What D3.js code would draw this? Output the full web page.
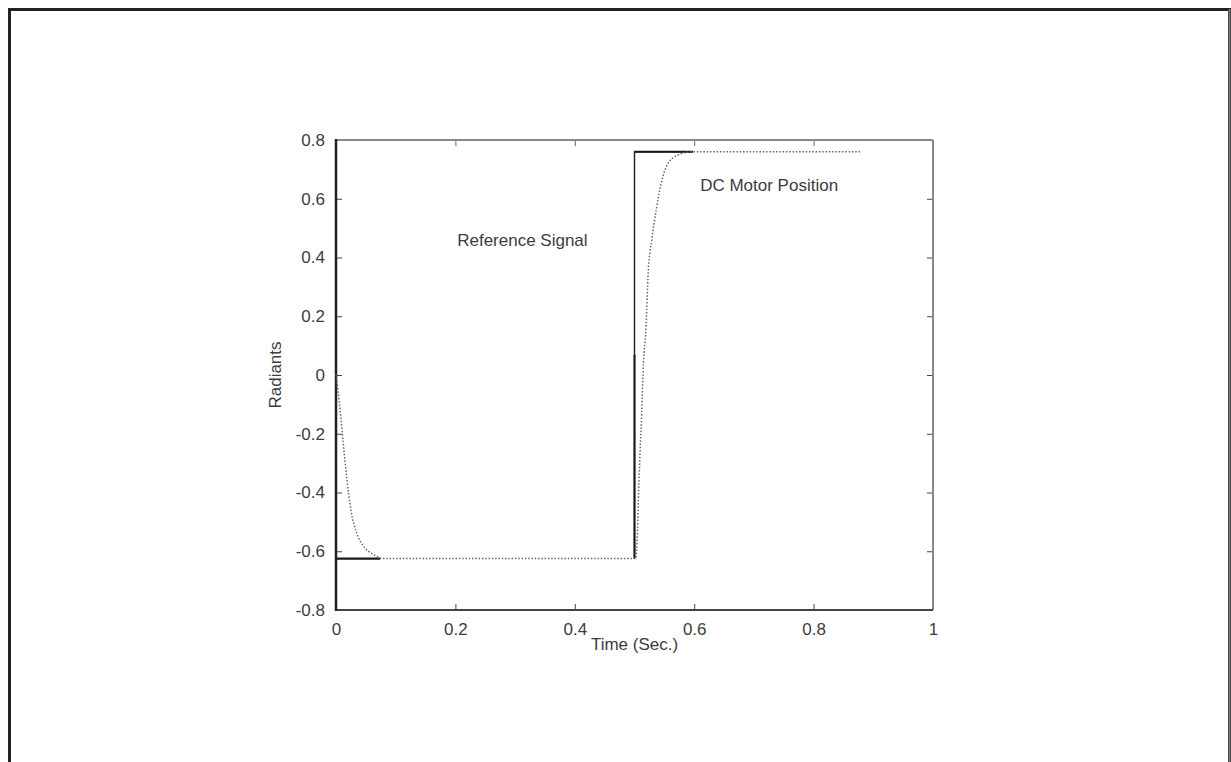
<!DOCTYPE html>
<html>
<head>
<meta charset="utf-8">
<script src="https://cdn.jsdelivr.net/npm/d3@7"></script>
<style>
  body { margin: 0; background: #fff; }
  svg { display: block; font-family: "Liberation Sans", Arial, sans-serif; }
</style>
</head>
<body>
<div id="chart"></div>
<script>
// reference step signal (null = gap where the motor curve lies on top of it)
const refTime  = [0, 0.074, null, 0.5, 0.5, 0.5, 0.598]
const refValue = [-0.625, -0.625, null, -0.625, 0.07, 0.76, 0.76]

// DC motor position
const motorTime  = [0, 0.007, 0.012, 0.018, 0.025, 0.035, 0.045, 0.062, 0.079, 0.2, 0.4, 0.5, 0.502,
                    0.505, 0.507, 0.509, 0.512, 0.515, 0.519, 0.523, 0.529, 0.537, 0.546, 0.556, 0.573, 0.596, 0.7, 0.878]
const motorValue = [0, -0.12, -0.23, -0.35, -0.46, -0.54, -0.58, -0.61, -0.625, -0.625, -0.625, -0.625, -0.625,
                    -0.53, -0.39, -0.28, -0.13, 0.04, 0.15, 0.35, 0.46, 0.57, 0.664, 0.72, 0.749, 0.76, 0.76, 0.76]

const xTicks = [0, 0.2, 0.4, 0.6, 0.8, 1]
const yTicks = [-0.8, -0.6, -0.4, -0.2, 0, 0.2, 0.4, 0.6, 0.8]

const labels = [
  { text: "Reference Signal", t: 0.203, v: 0.46 },
  { text: "DC Motor Position", t: 0.61, v: 0.647 }
]

const width = 1231
const height = 762
const margin = ({ top: 140, right: 298, bottom: 152, left: 336 })

const x = d3.scaleLinear([0, 1], [margin.left, width - margin.right])
const y = d3.scaleLinear([-0.8, 0.8], [height - margin.bottom, margin.top])

const fmt = d => String(+d.toFixed(1))
const textColor = "#3c3c3c"

const svg = d3.select("#chart").append("svg")
  .attr("width", width)
  .attr("height", height)

// outer frame of the figure
svg.append("path")
  .attr("d", `M9.5,${height + 5}V9.5H1229.5V${height + 5}`)
  .attr("fill", "none")
  .attr("stroke", "#222")
  .attr("stroke-width", 3)
svg.append("line")
  .attr("x1", 1229.5).attr("x2", 1229.5).attr("y1", 9).attr("y2", height)
  .attr("stroke", "#777").attr("stroke-width", 2)

const tickStyle = g => g
  .call(g => g.select(".domain").remove())
  .call(g => g.selectAll(".tick text")
    .attr("font-size", 17)
    .attr("fill", textColor)
    .attr("font-family", "Liberation Sans, Arial, sans-serif"))

// axes: ticks pointing inwards on all four sides
svg.append("g")
  .attr("transform", `translate(0,${y(-0.8)})`)
  .call(d3.axisBottom(x).tickValues(xTicks).tickFormat(fmt).tickSizeInner(-6).tickPadding(13))
  .call(tickStyle)
  .call(g => g.selectAll(".tick line").attr("stroke", "#444"))

svg.append("g")
  .attr("transform", `translate(${x(0)},0)`)
  .call(d3.axisLeft(y).tickValues(yTicks).tickFormat(fmt).tickSizeInner(-6).tickPadding(11))
  .call(tickStyle)
  .call(g => g.selectAll(".tick line").attr("stroke", "#444"))

svg.append("g")
  .attr("transform", `translate(0,${y(0.8)})`)
  .call(d3.axisTop(x).tickValues(xTicks).tickFormat("").tickSizeInner(-6))
  .call(g => g.select(".domain").remove())
  .call(g => g.selectAll(".tick line").attr("stroke", "#666"))

svg.append("g")
  .attr("transform", `translate(${x(1)},0)`)
  .call(d3.axisRight(y).tickValues(yTicks).tickFormat("").tickSizeInner(-6))
  .call(g => g.select(".domain").remove())
  .call(g => g.selectAll(".tick line").attr("stroke", "#444"))

// box
svg.append("line")
  .attr("x1", x(0)).attr("x2", x(1)).attr("y1", y(0.8)).attr("y2", y(0.8))
  .attr("stroke", "#888").attr("stroke-width", 2)
svg.append("line")
  .attr("x1", x(1)).attr("x2", x(1)).attr("y1", y(0.8)).attr("y2", y(-0.8))
  .attr("stroke", "#888").attr("stroke-width", 2)
svg.append("line")
  .attr("x1", x(0)).attr("x2", x(1)).attr("y1", y(-0.8)).attr("y2", y(-0.8))
  .attr("stroke", "#444").attr("stroke-width", 2)
svg.append("line")
  .attr("x1", x(0)).attr("x2", x(0)).attr("y1", y(0.8) - 1).attr("y2", y(-0.8) + 1)
  .attr("stroke", "#222").attr("stroke-width", 2.5)

// reference signal: thick up to the 0.07 sample, thin above it
const refData = refTime.map((t, i) => ({ t, v: refValue[i] }))
const refLine = d3.line()
  .defined(d => d.t != null)
  .x(d => x(d.t))
  .y(d => y(d.v))
svg.append("path")
  .datum(refData.slice(0, 5))
  .attr("fill", "none")
  .attr("stroke", "#1a1a1a")
  .attr("stroke-width", 2.2)
  .attr("d", refLine)
svg.append("path")
  .datum(refData.slice(4))
  .attr("fill", "none")
  .attr("stroke", "#1a1a1a")
  .attr("stroke-width", 1.4)
  .attr("d", refLine)
svg.append("path")
  .datum(refData.slice(5))
  .attr("fill", "none")
  .attr("stroke", "#1a1a1a")
  .attr("stroke-width", 2.2)
  .attr("d", refLine)

// motor position, dotted
const motorData = motorTime.map((t, i) => ({ t, v: motorValue[i] }))
svg.append("path")
  .datum(motorData)
  .attr("fill", "none")
  .attr("stroke", "#666")
  .attr("stroke-width", 1.5)
  .attr("stroke-dasharray", "1.5,1.8")
  .attr("d", d3.line()
    .curve(d3.curveMonotoneX)
    .x(d => x(d.t))
    .y(d => y(d.v)))

// annotations
svg.append("g")
  .selectAll("text")
  .data(labels)
  .join("text")
  .attr("x", d => x(d.t))
  .attr("y", d => y(d.v))
  .attr("dy", "0.35em")
  .attr("font-size", 17)
  .attr("fill", textColor)
  .text(d => d.text)

// axis titles
svg.append("text")
  .attr("x", x(0.5))
  .attr("y", y(-0.8) + 34)
  .attr("dy", "0.35em")
  .attr("text-anchor", "middle")
  .attr("font-size", 17)
  .attr("fill", textColor)
  .text("Time (Sec.)")

svg.append("text")
  .attr("transform", `translate(${x(0) - 61},${y(0)}) rotate(-90)`)
  .attr("dy", "0.35em")
  .attr("text-anchor", "middle")
  .attr("font-size", 17)
  .attr("fill", textColor)
  .text("Radiants")
</script>
</body>
</html>
